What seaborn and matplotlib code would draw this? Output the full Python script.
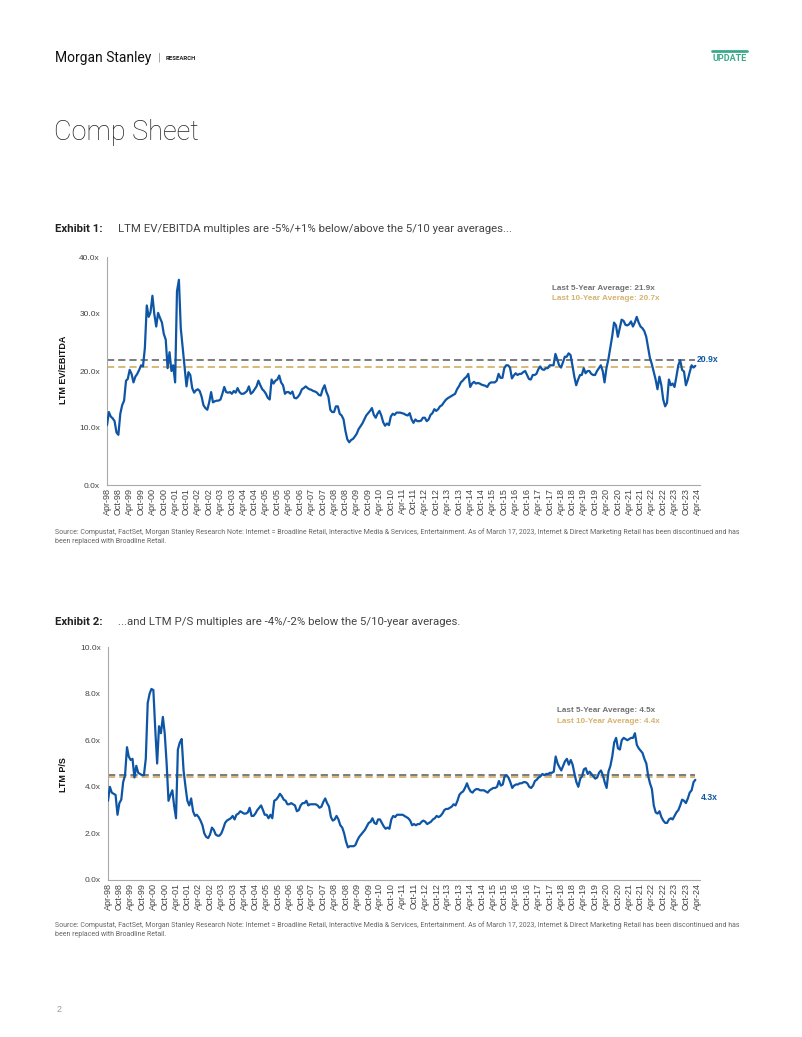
import matplotlib
matplotlib.use("Agg")
import matplotlib.pyplot as plt
from matplotlib.lines import Line2D
import numpy as np
import pandas as pd
import seaborn as sns

# ---------------- data ----------------
start_month = "1998-04-01"
n_months = 312

ev_ebitda = [
    10.5, 12.8, 12.0, 11.7, 11.2, 9.2, 8.8, 12.5, 14.0, 14.8, 18.3, 18.6,
    20.2, 19.5, 18.0, 19.0, 19.5, 20.2, 21.0, 20.8, 24.0, 31.5, 29.5, 30.3,
    33.2, 30.0, 27.8, 30.2, 29.3, 28.5, 26.5, 25.5, 20.5, 23.3, 20.0, 21.0,
    18.0, 34.0, 36.0, 27.5, 24.0, 20.5, 17.3, 19.8, 19.3, 17.0, 16.2, 16.6,
    16.8, 16.5, 15.5, 14.0, 13.5, 13.2, 14.5, 16.3, 14.5, 14.7, 14.8, 14.8,
    15.0, 16.0, 17.2, 16.3, 16.2, 16.3, 16.0, 16.5, 16.2, 17.0, 16.3, 16.0,
    16.0, 16.2, 16.5, 17.3, 16.0, 16.3, 16.8, 17.3, 18.3, 17.5, 16.8, 16.5,
    16.0, 15.3, 15.0, 18.5, 17.8, 18.3, 18.5, 19.2, 18.0, 17.5, 16.0, 16.3,
    16.3, 16.0, 16.4, 15.3, 15.2, 15.5, 16.0, 16.8, 17.0, 17.3, 17.0, 16.8,
    16.7, 16.5, 16.4, 16.2, 15.8, 15.7, 16.8, 17.5, 16.3, 15.5, 13.2, 12.8,
    12.8, 13.8, 13.8, 12.5, 12.2, 11.5, 9.5, 8.0, 7.5, 7.9, 8.1, 8.5,
    9.0, 9.8, 10.3, 10.8, 11.5, 12.2, 12.6, 13.0, 13.5, 12.3, 11.8, 12.5,
    13.0, 12.2, 11.0, 10.4, 10.8, 10.5, 12.0, 12.5, 12.3, 12.7, 12.7, 12.7,
    12.6, 12.5, 12.3, 12.2, 12.6, 11.5, 10.9, 11.5, 11.2, 11.2, 11.3, 11.8,
    11.8, 11.2, 11.5, 12.3, 12.6, 13.3, 13.0, 13.3, 13.8, 14.0, 14.5, 14.9,
    15.2, 15.4, 15.6, 15.8, 16.0, 16.8, 17.3, 18.0, 18.3, 18.7, 19.0, 19.5,
    17.2, 17.8, 18.1, 17.8, 17.9, 17.8, 17.6, 17.5, 17.4, 17.2, 17.8, 18.0,
    18.0, 18.0, 18.3, 19.5, 18.8, 18.8, 20.5, 21.0, 21.0, 20.6, 18.7, 19.2,
    19.6, 19.3, 19.5, 19.5, 19.8, 20.0, 19.3, 18.6, 18.5, 19.3, 19.3, 19.5,
    20.3, 20.8, 20.3, 20.2, 20.5, 20.5, 21.0, 21.0, 21.0, 23.0, 22.0, 21.0,
    20.6, 21.5, 22.5, 22.5, 23.1, 22.8, 21.0, 19.0, 17.5, 18.5, 19.3, 19.3,
    20.5, 19.6, 20.0, 20.0, 19.5, 19.3, 19.3, 20.0, 20.5, 21.0, 20.0, 18.0,
    20.5, 22.0, 24.0, 26.0, 28.5, 28.0, 26.0, 27.5, 29.0, 28.8, 28.1, 28.0,
    28.2, 28.7, 27.8, 28.5, 29.5, 28.5, 27.8, 27.5, 27.0, 26.0, 24.0, 22.3,
    21.2, 19.9, 18.5, 16.8, 19.0, 17.5, 15.0, 13.8, 14.4, 18.5, 17.5, 17.8,
    17.2, 19.0, 21.0, 21.9, 20.2, 19.9, 17.5, 18.5, 19.8, 21.0, 20.6, 20.9,
]

price_sales = [
    3.4, 4.0, 3.75, 3.7, 3.65, 2.8, 3.3, 3.45, 4.2, 4.5, 5.7, 5.3,
    5.15, 5.2, 4.4, 4.9, 4.6, 4.55, 4.5, 4.5, 5.2, 7.6, 8.0, 8.2,
    8.15, 6.5, 5.0, 6.6, 6.3, 7.0, 6.3, 5.0, 3.4, 3.65, 3.85, 3.2,
    2.65, 5.6, 5.9, 6.05, 4.7, 4.0, 3.4, 3.2, 3.5, 2.95, 2.75, 2.8,
    2.7, 2.55, 2.35, 2.0, 1.85, 1.8, 1.95, 2.25, 2.15, 1.95, 1.9, 1.9,
    2.0, 2.2, 2.45, 2.55, 2.6, 2.65, 2.75, 2.6, 2.8, 2.85, 2.95, 2.9,
    2.85, 2.85, 2.9, 3.1, 2.75, 2.75, 2.85, 3.0, 3.1, 3.2, 3.0, 2.8,
    2.8, 2.65, 2.8, 2.65, 3.4, 3.45, 3.55, 3.7, 3.6, 3.45, 3.4, 3.25,
    3.25, 3.3, 3.25, 3.2, 2.95, 3.0, 3.2, 3.3, 3.3, 3.4, 3.2, 3.25,
    3.25, 3.25, 3.25, 3.2, 3.1, 3.15, 3.35, 3.5, 3.3, 3.15, 2.7, 2.55,
    2.6, 2.75, 2.6, 2.35, 2.25, 2.0, 1.65, 1.4, 1.45, 1.45, 1.45, 1.5,
    1.7, 1.85, 1.95, 2.05, 2.15, 2.3, 2.45, 2.5, 2.65, 2.45, 2.4, 2.6,
    2.6, 2.45, 2.3, 2.2, 2.25, 2.2, 2.6, 2.75, 2.7, 2.8, 2.8, 2.8,
    2.8, 2.75, 2.7, 2.65, 2.55, 2.35, 2.4, 2.35, 2.4, 2.4, 2.5, 2.55,
    2.5, 2.4, 2.45, 2.5, 2.6, 2.65, 2.75, 2.7, 2.75, 2.85, 3.0, 3.05,
    3.05, 3.1, 3.15, 3.25, 3.2, 3.4, 3.65, 3.75, 3.8, 3.95, 4.15, 3.95,
    3.8, 3.75, 3.85, 3.9, 3.9, 3.85, 3.85, 3.85, 3.8, 3.75, 3.85, 3.9,
    3.95, 3.95, 4.0, 4.25, 4.05, 4.1, 4.45, 4.5, 4.4, 4.2, 3.95, 4.05,
    4.1, 4.1, 4.15, 4.15, 4.2, 4.2, 4.15, 4.0, 3.95, 4.05, 4.25, 4.3,
    4.4, 4.45, 4.55, 4.5, 4.55, 4.55, 4.6, 4.6, 4.65, 5.3, 5.0, 4.85,
    4.7, 4.9, 5.1, 5.2, 4.95, 5.15, 4.95, 4.55, 4.2, 4.0, 4.35, 4.45,
    4.75, 4.8, 4.55, 4.65, 4.55, 4.45, 4.35, 4.4, 4.6, 4.7, 4.5, 4.2,
    3.95, 4.65, 4.9, 5.3, 5.9, 6.1, 5.65, 5.6, 6.0, 6.1, 6.05, 6.0,
    6.05, 6.1, 6.1, 6.3, 5.8, 5.65, 5.55, 5.45, 5.2, 5.0, 4.45, 4.15,
    3.9, 3.2, 2.9, 2.85, 2.95, 2.7, 2.55, 2.45, 2.45, 2.6, 2.65, 2.6,
    2.75, 2.9, 3.0, 3.2, 3.45, 3.4, 3.3, 3.5, 3.75, 3.85, 4.2, 4.3,
]

ev_avg5, ev_avg10, ev_last = 21.9, 20.7, 20.9
ps_avg5, ps_avg10, ps_last = 4.5, 4.4, 4.3
ev_yticks = [0, 10, 20, 30, 40]
ps_yticks = [0, 2, 4, 6, 8, 10]

exhibit1_title = "LTM EV/EBITDA multiples are -5%/+1% below/above the 5/10 year averages..."
exhibit2_title = "...and LTM P/S multiples are -4%/-2% below the 5/10-year averages."
source_l1 = ("Source: Compustat, FactSet, Morgan Stanley Research Note: Internet = Broadline Retail, "
             "Interactive Media & Services, Entertainment. As of March 17, 2023, Internet & Direct "
             "Marketing Retail has been discontinued and has")
source_l2 = "been replaced with Broadline Retail."

# ---------------- style ----------------
sns.set_theme(style="white")
plt.rcParams["font.family"] = ["Liberation Sans", "DejaVu Sans"]

BLUE = "#0E56A5"
GRAY5 = "#707172"
TAN10 = "#D6B36E"
AXIS = "#A9A9A9"
TEXT = "#444444"

W, H = 802, 1037
fig = plt.figure(figsize=(W / 100, H / 100), dpi=100)


def fx(x):
    return x / W


def fy(y):
    return 1 - y / H


# ---------------- header ----------------
fig.text(fx(55), fy(58), "Morgan Stanley", fontsize=10, family="Roboto", color="#111111", va="center")
fig.text(fx(158), fy(58), "|", fontsize=8, family="Roboto", color="#888888", va="center")
fig.text(fx(166), fy(58), "RESEARCH", fontsize=4.3, family="Roboto", weight="bold", color="#222222", va="center")
fig.text(fx(747), fy(58.5), "UPDATE", fontsize=6.5, family="Roboto", weight="bold", color="#3BAA8B",
         va="center", ha="right")
fig.add_artist(Line2D([fx(712), fx(747)], [fy(51), fy(51)], color="#3BAA8B", lw=2,
                      transform=fig.transFigure))
fig.text(fx(54), fy(133), "Comp Sheet", fontsize=19.5, family="Roboto", weight="light",
         color="#222222", va="center")

dates = pd.date_range(start_month, periods=n_months, freq="MS")
tick_dates = pd.date_range("1998-04-01", "2024-04-01", freq="6MS")
tick_labels = [d.strftime("%b-%y") for d in tick_dates]


def draw_chart(top, bottom, left, right, values, yticks, avg5, avg10, last, ylabel,
               ylabel_y, title_y, exhibit, title, label_x, label_y, last_xy, src_y):
    ax = fig.add_axes([fx(left), fy(bottom), (right - left) / W, (bottom - top) / H])
    df = pd.DataFrame({"date": dates, "value": values})
    ax.hlines(avg5, dates[0], dates[-1], colors=GRAY5, linestyles=(0, (4, 2.2)), lw=1.3, zorder=1)
    ax.hlines(avg10, dates[0], dates[-1], colors=TAN10, linestyles=(0, (4, 2.2)), lw=1.3, zorder=1)
    sns.lineplot(data=df, x="date", y="value", ax=ax, color=BLUE, lw=1.6, zorder=3)
    ax.set_xlim(dates[0], pd.Timestamp("2024-05-15"))
    ax.set_ylim(yticks[0], yticks[-1])
    ax.set_yticks(yticks)
    ax.set_yticklabels([f"{v:.1f}x" for v in yticks])
    ax.set_xticks(tick_dates)
    ax.set_xticklabels(tick_labels, rotation=90)
    ax.tick_params(axis="y", length=0, labelsize=6, labelcolor=TEXT, pad=5)
    ax.tick_params(axis="x", length=0, labelsize=6.5, labelcolor=TEXT, pad=2)
    ax.set_xlabel("")
    ax.set_ylabel("")
    for s in ["top", "right"]:
        ax.spines[s].set_visible(False)
    for s in ["left", "bottom"]:
        ax.spines[s].set_color(AXIS)
        ax.spines[s].set_linewidth(0.8)
    fig.text(fx(63), fy(ylabel_y), ylabel, rotation=90, fontsize=6.5, weight="bold",
             color="#111111", ha="center", va="center")
    fig.text(fx(55), fy(title_y), exhibit, fontsize=8.2, family="Roboto", weight="bold",
             color="#222222", va="center")
    fig.text(fx(118), fy(title_y), title, fontsize=8.2, family="Roboto", color="#444444", va="center")
    fig.text(fx(label_x), fy(label_y), f"Last 5-Year Average: {avg5:.1f}x", fontsize=5.9,
             weight="bold", color=GRAY5, va="center")
    fig.text(fx(label_x), fy(label_y + 10.5), f"Last 10-Year Average: {avg10:.1f}x", fontsize=5.9,
             weight="bold", color=TAN10, va="center")
    fig.text(fx(last_xy[0]), fy(last_xy[1]), f"{last:.1f}x", fontsize=6.2, weight="bold",
             color=BLUE, va="center")
    fig.text(fx(55), fy(src_y), source_l1, fontsize=5.08, family="Roboto", color="#666666", va="center")
    fig.text(fx(55), fy(src_y + 9.5), source_l2, fontsize=5.08, family="Roboto", color="#666666",
             va="center")
    return ax


draw_chart(257, 485, 107, 700, ev_ebitda, ev_yticks, ev_avg5, ev_avg10, ev_last,
           "LTM EV/EBITDA", 370, 229, "Exhibit 1:", exhibit1_title, 552, 288, (697, 359), 532)
draw_chart(647, 880, 108, 700, price_sales, ps_yticks, ps_avg5, ps_avg10, ps_last,
           "LTM P/S", 775, 622, "Exhibit 2:", exhibit2_title, 557, 711, (701, 797), 925)

fig.text(fx(57), fy(1009), "2", fontsize=6.5, color="#999999", va="center")

fig.savefig("out.png", dpi=100)
